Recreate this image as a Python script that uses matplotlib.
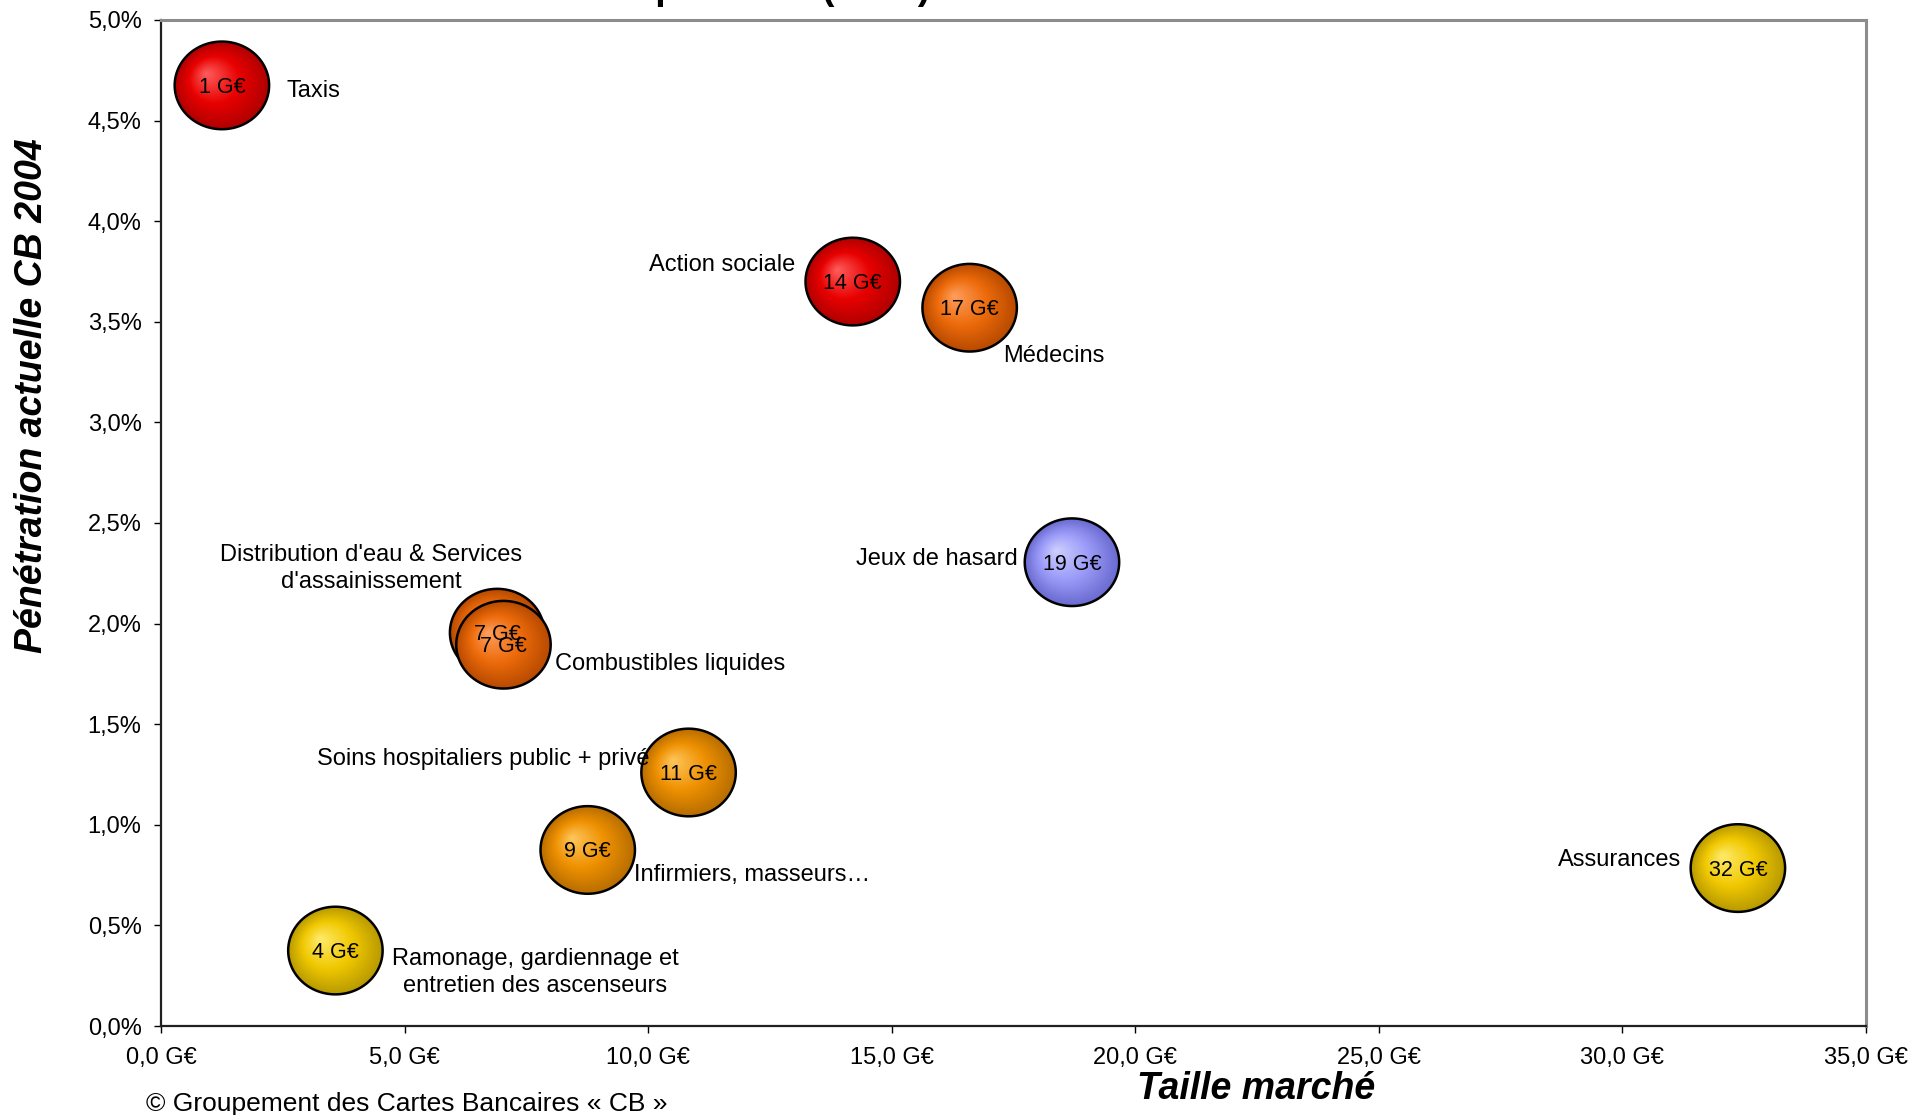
import numpy as np
import matplotlib
matplotlib.use("Agg")
import matplotlib.pyplot as plt
from matplotlib.path import Path
from matplotlib import transforms
from matplotlib.colors import to_rgb

plt.rcParams['font.family'] = ['Liberation Sans', 'DejaVu Sans']

# ---------------- data ----------------
categories = ["Taxis", "Action sociale", "Médecins", "Jeux de hasard",
              "Distribution d'eau & Services\nd'assainissement", "Combustibles liquides",
              "Soins hospitaliers public + privé", "Infirmiers, masseurs…",
              "Ramonage, gardiennage et\nentretien des ascenseurs", "Assurances"]
market_size = [1.25, 14.2, 16.6, 18.7, 6.9, 7.03, 10.83, 8.76, 3.58, 32.37]   # G€
penetration = [4.675, 3.70, 3.57, 2.305, 1.955, 1.895, 1.26, 0.875, 0.375, 0.785]    # %
bubble_labels = ["1 G€", "14 G€", "17 G€", "19 G€", "7 G€", "7 G€",
                 "11 G€", "9 G€", "4 G€", "32 G€"]
color_groups = ["red", "red", "dorange", "blue", "dorange", "dorange",
                "orange", "orange", "yellow", "yellow"]

x_ticks = [0, 5, 10, 15, 20, 25, 30, 35]
x_tick_labels = ["0,0 G€", "5,0 G€", "10,0 G€", "15,0 G€", "20,0 G€",
                 "25,0 G€", "30,0 G€", "35,0 G€"]
y_ticks = [0, 0.5, 1, 1.5, 2, 2.5, 3, 3.5, 4, 4.5, 5]
y_tick_labels = ["0,0%", "0,5%", "1,0%", "1,5%", "2,0%", "2,5%", "3,0%",
                 "3,5%", "4,0%", "4,5%", "5,0%"]

# ---------------- styles / layout ----------------
palette = {  # edge, mid, highlight
    "red":     ("#b00000", "#e80000", "#ff6060"),
    "dorange": ("#b84a00", "#ec6a0a", "#ffa060"),
    "orange":  ("#b86e00", "#ee9000", "#ffc860"),
    "yellow":  ("#b89a00", "#f0c800", "#ffec70"),
    "blue":    ("#6a6ad0", "#9a9af8", "#d0d0ff"),
}
# label offsets in pixels (dx, dy up), horizontal alignment
label_layout = [(65, -6, "left"), (-57, 17, "right"), (33, -48, "left"),
                (-54, 3, "right"), (-126, 64, "center"), (52, -19, "left"),
                (-39, 13, "right"), (46, -25, "left"), (200, -22, "center"),
                (-57, 8, "right")]

W, H = 1912, 1115
fig = plt.figure(figsize=(W / 100, H / 100), dpi=100)
ax = fig.add_axes([161 / W, 1 - 1026 / H, (1866 - 161) / W, (1026 - 20) / H])
ax.set_xlim(0, 35)
ax.set_ylim(0, 5)

# ellipse marker (wider than tall)
t = np.linspace(0, 2 * np.pi, 120)
ell = Path(np.column_stack([np.cos(t), 0.928 * np.sin(t)]), closed=True)
S = 68 ** 2
N = 36
hx, hy = -16, 12  # highlight offset in pixels


def shade(r, edge, mid, hi):
    e, m, h = np.array(to_rgb(edge)), np.array(to_rgb(mid)), np.array(to_rgb(hi))
    if r > 0.55:
        u = (r - 0.55) / 0.45
        return tuple(m * (1 - u) + e * u)
    u = r / 0.55
    return tuple(h * (1 - u) + m * u)


for i, (x, y) in enumerate(zip(market_size, penetration)):
    edge, mid, hi = palette[color_groups[i]]
    base = 3 + i
    for k in range(N):
        r = 1 - k / N
        tr = transforms.offset_copy(ax.transData, fig=fig, x=hx * (1 - r), y=hy * (1 - r), units='dots')
        ax.scatter([x], [y], s=S * r ** 2, marker=ell, facecolor=[shade(r, edge, mid, hi)],
                   edgecolor='none', transform=tr, zorder=base + k / 1000)
    ax.scatter([x], [y], s=S, marker=ell, facecolor='none', edgecolor='black',
               linewidth=1.8, zorder=base + 0.9)

for i, (x, y) in enumerate(zip(market_size, penetration)):
    ax.annotate(bubble_labels[i], (x, y), xytext=(0, -2), textcoords='offset pixels',
                ha='center', va='center', fontsize=15.5, color='black', zorder=50)
    dx, dy, ha = label_layout[i]
    ax.annotate(categories[i], (x, y), xytext=(dx, dy), textcoords='offset pixels',
                ha=ha, va='center', multialignment='center', fontsize=17,
                linespacing=1.32, zorder=50)

ax.set_xticks(x_ticks)
ax.set_xticklabels(x_tick_labels)
ax.set_yticks(y_ticks)
ax.set_yticklabels(y_tick_labels)
ax.tick_params(axis='both', direction='out', length=5, width=1, labelsize=17, color='black')
ax.tick_params(axis='x', pad=10)
ax.tick_params(axis='y', pad=9)

for s in ['left', 'bottom']:
    ax.spines[s].set_color('#202020')
    ax.spines[s].set_linewidth(1.6)
for s in ['top', 'right']:
    ax.spines[s].set_color('#8c8c8c')
    ax.spines[s].set_linewidth(2.2)

fig.text(32 / W, 1 - 396 / H, "Pénétration actuelle CB 2004", rotation=90,
         ha='center', va='center', fontsize=27, fontweight='bold', fontstyle='italic')
fig.text(1256 / W, 1 - 1089 / H, "Taille marché", ha='center', va='center',
         fontsize=27, fontweight='bold', fontstyle='italic')
fig.text(146 / W, 1 - 1104 / H, "© Groupement des Cartes Bancaires « CB »",
         ha='left', va='center', fontsize=19)
# title, mostly cut off at the top edge of the picture
fig.text(930 / W, 1 + 1 / H, "Secteurs à fort potentiel (2004)", ha='right',
         va='baseline', fontsize=27, fontweight='bold')

fig.savefig("out.png", dpi=100)
